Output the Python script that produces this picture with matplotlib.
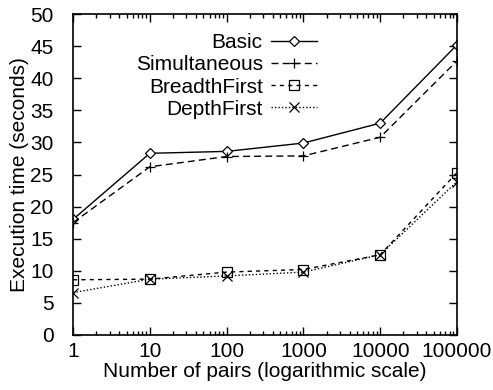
import matplotlib
matplotlib.use("Agg")
import matplotlib.pyplot as plt
from matplotlib.ticker import LogLocator, NullFormatter, FixedLocator, FixedFormatter

plt.rcParams['font.family'] = ['Liberation Sans', 'DejaVu Sans']

pairs = [1, 10, 100, 1000, 10000, 100000]
basic = [18.0, 28.3, 28.6, 29.9, 33.0, 45.2]
simultaneous = [17.5, 26.2, 27.8, 27.9, 30.8, 42.7]
breadth_first = [8.6, 8.7, 9.8, 10.2, 12.5, 25.3]
depth_first = [6.6, 8.7, 9.2, 9.8, 12.5, 23.9]
xtick_labels = ['1', '10', '100', '1000', '10000', '100000']

fs = 15

fig = plt.figure(figsize=(4.93, 3.90), dpi=100)
ax = fig.add_axes([73/493, 55/390, (457-73)/493, (335-14)/390])

ax.plot(pairs, basic, color='black', lw=1.0, ls='-', marker='D', ms=5,
        mfc='white', mec='black', mew=0.9, label='Basic')
ax.plot(pairs, simultaneous, color='black', lw=1.0, ls=(0, (5, 3)), marker='+', ms=7,
        mew=0.9, label='Simultaneous')
ax.plot(pairs, breadth_first, color='black', lw=1.0, ls=(0, (3, 3)), marker='s', ms=7,
        mfc='none', mec='black', mew=0.9, label='BreadthFirst')
ax.plot(pairs, depth_first, color='black', lw=1.0, ls=(0, (1, 1.5)), marker='x', ms=7,
        mew=0.9, label='DepthFirst')

ax.set_xscale('log')
ax.set_xlim(1, 100000)
ax.set_ylim(0, 50)
ax.xaxis.set_major_locator(FixedLocator(pairs))
ax.xaxis.set_major_formatter(FixedFormatter(xtick_labels))
ax.xaxis.set_minor_locator(LogLocator(base=10, subs=range(2, 10)))
ax.xaxis.set_minor_formatter(NullFormatter())
ax.set_yticks(range(0, 51, 5))

ax.tick_params(which='both', direction='in', top=True, right=True, labelsize=fs, colors='black')
ax.tick_params(which='major', length=6, width=1)
ax.tick_params(which='minor', length=3, width=1)
ax.tick_params(axis='x', pad=5)
ax.tick_params(axis='y', pad=14)
for s in ax.spines.values():
    s.set_linewidth(1.2)

ax.set_xlabel('Number of pairs (logarithmic scale)', fontsize=fs, labelpad=1)
ax.set_ylabel('Execution time (seconds)', fontsize=fs, labelpad=1)

leg = ax.legend(loc='upper right', bbox_to_anchor=(0.635, 0.94), frameon=False,
                markerfirst=False, fontsize=fs, handlelength=2.2, labelspacing=0.15,
                handletextpad=0.4, borderpad=0, borderaxespad=0)
for t in leg.get_texts():
    t.set_ha('right')
leg._legend_box.align = 'right'

fig.savefig('out.png', dpi=100)
